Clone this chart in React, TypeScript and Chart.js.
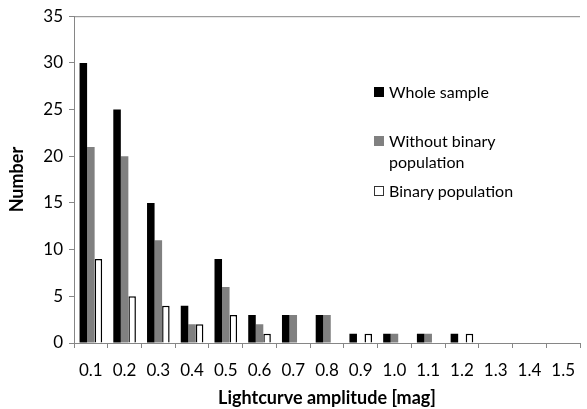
import React, { useEffect, useRef } from "react";
import { Chart, registerables } from "chart.js";

Chart.register(...registerables);

const categories = ["0.1", "0.2", "0.3", "0.4", "0.5", "0.6", "0.7", "0.8", "0.9", "1.0", "1.1", "1.2", "1.3", "1.4", "1.5"];
const wholeSample = [30, 25, 15, 4, 9, 3, 3, 3, 1, 1, 1, 1, 0, 0, 0];
const withoutBinary = [21, 20, 11, 2, 6, 2, 3, 3, 0, 1, 1, 0, 0, 0, 0];
const binaryPopulation = [9, 5, 4, 2, 3, 1, 0, 0, 1, 0, 0, 1, 0, 0, 0];
const seriesNames = ["Whole sample", "Without binary population", "Binary population"];

const FONT = "Lato, 'Open Sans', sans-serif";
const AXIS = "#868686";

const topBorder = {
  id: "topBorder",
  afterDraw(chart: any) {
    const { ctx, chartArea } = chart;
    ctx.save();
    ctx.strokeStyle = AXIS;
    ctx.lineWidth = 1;
    ctx.beginPath();
    ctx.moveTo(chartArea.left, chartArea.top + 0.5);
    ctx.lineTo(chartArea.right, chartArea.top + 0.5);
    ctx.stroke();
    ctx.restore();
  },
};

export default function App() {
  const ref = useRef<HTMLCanvasElement | null>(null);

  useEffect(() => {
    document.body.style.margin = "0";
    if (!ref.current) return;
    const chart = new Chart(ref.current, {
      type: "bar",
      data: {
        labels: categories,
        datasets: [
          { label: seriesNames[0], data: wholeSample, backgroundColor: "#000000", borderColor: "#000000", borderWidth: 0 },
          { label: seriesNames[1], data: withoutBinary, backgroundColor: "#808080", borderColor: "#808080", borderWidth: 0 },
          { label: seriesNames[2], data: binaryPopulation, backgroundColor: "#ffffff", borderColor: "#000000", borderWidth: 1.5 },
        ],
      },
      options: {
        animation: false,
        responsive: false,
        maintainAspectRatio: false,
        layout: { padding: { top: 16, right: 0, left: 0, bottom: 0 } },
        datasets: { bar: { categoryPercentage: 0.67, barPercentage: 1.0 } },
        plugins: { legend: { display: false }, tooltip: { enabled: false } },
        scales: {
          x: {
            grid: { display: true, drawOnChartArea: false, offset: true, tickLength: 5, color: AXIS },
            border: { display: true, color: AXIS, width: 1 },
            ticks: { color: "#000", font: { family: FONT, size: 17 }, padding: 12, maxRotation: 0, autoSkip: false },
            title: { display: true, text: "Lightcurve amplitude [mag]", color: "#000", font: { family: FONT, size: 18, weight: "bold" }, padding: { top: 0, bottom: 0 } },
            afterFit: (s: any) => { s.height = 66; },
          },
          y: {
            min: 0,
            max: 35,
            grid: { display: true, drawOnChartArea: false, tickLength: 5, color: AXIS },
            border: { display: true, color: AXIS, width: 1 },
            ticks: { stepSize: 5, color: "#000", font: { family: FONT, size: 17 }, padding: 6 },
            title: { display: true, text: "Number", color: "#000", font: { family: FONT, size: 18, weight: "bold" }, padding: { top: 6, bottom: 0 } },
            afterFit: (s: any) => { s.width = 74; },
          },
        },
      },
      plugins: [topBorder],
    });
    return () => chart.destroy();
  }, []);

  const legendItem = (top: number, color: string, border: string, lines: string[]) => (
    <div style={{ position: "absolute", left: 374, top, display: "flex", alignItems: "flex-start" }}>
      <div style={{ width: 10, height: 10, background: color, border: `1px solid ${border}`, boxSizing: "border-box", marginTop: 6, marginRight: 5 }} />
      <div style={{ fontFamily: FONT, fontSize: 16, lineHeight: "21px", color: "#000" }}>
        {lines.map((l, i) => (
          <div key={i}>{l}</div>
        ))}
      </div>
    </div>
  );

  return (
    <div style={{ position: "relative", width: 587, height: 409, background: "#fff" }}>
      <canvas ref={ref} width={587} height={409} style={{ display: "block" }} />
      {legendItem(81, "#000000", "#000000", [seriesNames[0]])}
      {legendItem(130, "#808080", "#808080", ["Without binary", "population"])}
      {legendItem(180, "#ffffff", "#333333", [seriesNames[2]])}
    </div>
  );
}
